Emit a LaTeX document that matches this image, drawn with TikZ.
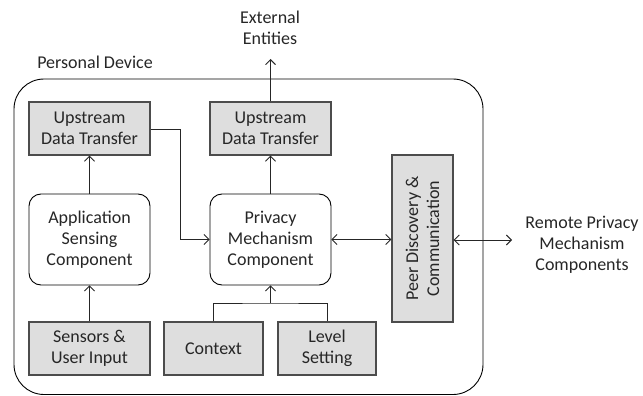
\documentclass[tikz,border=0pt]{standalone}
\usepackage{fontspec}
\setmainfont{Carlito}
\usetikzlibrary{arrows.meta}
\begin{document}
\begin{tikzpicture}[x=1pt,y=-1pt,
  every node/.style={font=\fontsize{18}{21}\selectfont, text=black!85, align=center, inner sep=0pt},
  graybox/.style={draw=black!70, line width=1.3pt, fill=black!13},
  roundbox/.style={draw=black, line width=0.9pt, rounded corners=12pt},
  conn/.style={line width=0.9pt, black!85},
  arr/.style={conn, -{Straight Barb[length=5pt,width=10pt]}},
  darr/.style={conn, {Straight Barb[length=5pt,width=10pt]}-{Straight Barb[length=5pt,width=10pt]}}]
\useasboundingbox (0,0) rectangle (643,396);
\draw[line width=0.9pt, rounded corners=30pt] (14,79) rectangle (483,394.5);
\node (pd) at (95,62) {Personal Device};
\node (ext) at (270,28) {External\\Entities};
\node (rem) at (582,245) {Remote Privacy\\Mechanism\\Components};
\node[graybox, minimum width=121pt, minimum height=53pt] (up1) at (89.5,128.5) {Upstream\\Data Transfer};
\node[graybox, minimum width=121pt, minimum height=53pt] (up2) at (270.5,128.5) {Upstream\\Data Transfer};
\node[roundbox, minimum width=121pt, minimum height=91pt] (app) at (89.5,239.5) {Application\\Sensing\\Component};
\node[roundbox, minimum width=121pt, minimum height=91pt] (priv) at (270.5,239.5) {Privacy\\Mechanism\\Component};
\node[graybox, minimum width=121pt, minimum height=53pt] (sens) at (89.5,348.5) {Sensors \&\\User Input};
\node[graybox, minimum width=99pt, minimum height=53pt] (ctx) at (213.5,348.5) {Context};
\node[graybox, minimum width=98pt, minimum height=53pt] (lvl) at (327,348.5) {Level\\Setting};
\node[graybox, minimum width=167pt, minimum height=61pt, rotate=90] (peer) at (422.5,238.5) {Peer Discovery \&\\Communication};
\coordinate (bus) at (270.5,303);
\coordinate (remend) at (512,240);
\coordinate (ext1) at (270.5,59);
\draw[arr] (app.north) -- (up1.south);
\draw[arr] (priv.north) -- (up2.south);
\draw[arr] (up2.north) -- (ext1);
\draw[arr] (up1.east |- 0,129) -- (180,129) |- (priv.west);
\draw[arr] (sens.north) -- (app.south);
\draw[conn] (ctx.north) |- (bus) -| (lvl.north);
\draw[arr] (bus) -- (priv.south);
\draw[darr] (priv.east) -- (priv.east -| peer.north);
\draw[darr] (peer.south |- remend) -- (remend);
\end{tikzpicture}
\end{document}
